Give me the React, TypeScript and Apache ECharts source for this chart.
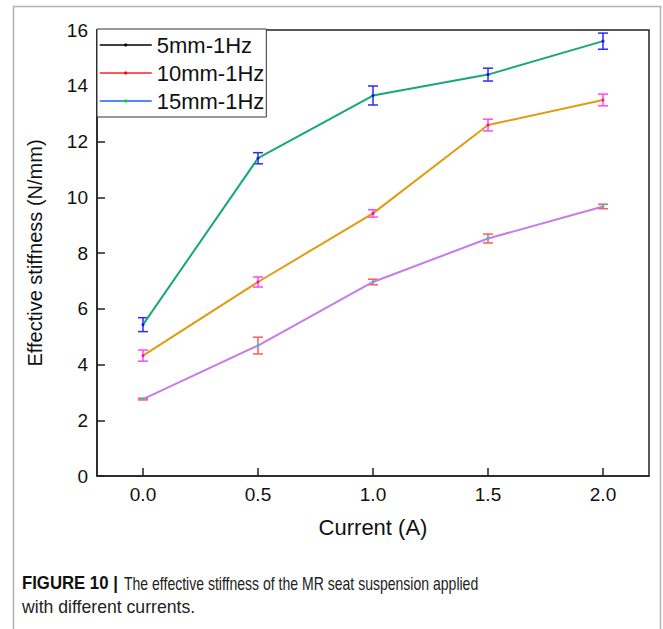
import React, { useEffect, useRef } from "react";
import * as echarts from "echarts";

const currents = [0, 0.5, 1.0, 1.5, 2.0];
const xTicks = [0, 0.5, 1.0, 1.5, 2.0];
const seriesNames = ["5mm-1Hz", "10mm-1Hz", "15mm-1Hz"];
const stiff5 = [2.76, 4.68, 6.96, 8.52, 9.67];
const err5 = [0.03, 0.3, 0.1, 0.16, 0.08];
const stiff10 = [4.32, 6.96, 9.42, 12.59, 13.49];
const err10 = [0.2, 0.18, 0.13, 0.21, 0.21];
const stiff15 = [5.43, 11.4, 13.65, 14.4, 15.6];
const err15 = [0.25, 0.2, 0.34, 0.23, 0.29];

const captionBold = "FIGURE 10 |";
const captionLine1 = "The effective stiffness of the MR seat suspension applied";
const captionLine2 = "with different currents.";

const FONT = "'Liberation Sans', Arial, sans-serif";

function errorSeries(vals: number[], errs: number[], color: string) {
  return {
    type: "custom",
    silent: true,
    z: 3,
    data: currents.map((x, i) => [x, vals[i] - errs[i], vals[i] + errs[i]]),
    renderItem: (_p: any, api: any) => {
      const x = api.value(0);
      const lo = api.coord([x, api.value(1)]);
      const hi = api.coord([x, api.value(2)]);
      const hw = 5;
      const st = { stroke: color, lineWidth: 1.5 };
      return {
        type: "group",
        children: [
          { type: "line", shape: { x1: lo[0], y1: lo[1], x2: hi[0], y2: hi[1] }, style: st },
          { type: "line", shape: { x1: lo[0] - hw, y1: lo[1], x2: lo[0] + hw, y2: lo[1] }, style: st },
          { type: "line", shape: { x1: hi[0] - hw, y1: hi[1], x2: hi[0] + hw, y2: hi[1] }, style: st },
        ],
      };
    },
  };
}

function lineSeries(name: string, vals: number[], lineColor: string, dotColor: string) {
  return {
    type: "line",
    name,
    z: 4,
    data: currents.map((x, i) => [x, vals[i]]),
    symbol: "circle",
    symbolSize: 3,
    showSymbol: true,
    lineStyle: { color: lineColor, width: 2 },
    itemStyle: { color: dotColor },
  };
}

export default function App() {
  const ref = useRef<HTMLDivElement>(null);
  useEffect(() => {
    if (!ref.current) return;
    const chart = echarts.init(ref.current, null, { renderer: "svg" });
    chart.setOption({
      animation: false,
      textStyle: { fontFamily: FONT },
      grid: {
        left: 97,
        right: 14,
        top: 30,
        bottom: 153,
        show: true,
        borderColor: "#222",
        borderWidth: 1.5,
        backgroundColor: "transparent",
      },
      xAxis: {
        type: "value",
        min: -0.2,
        max: 2.2,
        name: "Current (A)",
        nameLocation: "middle",
        nameGap: 40,
        nameTextStyle: { fontSize: 22, color: "#111", fontFamily: FONT },
        axisLine: { show: true, onZero: false, lineStyle: { color: "#222", width: 1.5 } },
        axisTick: { show: true, inside: true, length: 8, customValues: xTicks, lineStyle: { color: "#222", width: 1.5 } },
        axisLabel: {
          customValues: xTicks,
          formatter: (v: number) => v.toFixed(1),
          fontSize: 19,
          color: "#111",
          margin: 9,
          fontFamily: FONT,
        },
        splitLine: { show: false },
      },
      yAxis: {
        type: "value",
        min: 0,
        max: 16,
        interval: 2,
        name: "Effective stiffness (N/mm)",
        nameLocation: "middle",
        nameGap: 52,
        nameTextStyle: { fontSize: 20, color: "#111", fontFamily: FONT },
        axisLine: { show: true, onZero: false, lineStyle: { color: "#222", width: 1.5 } },
        axisTick: { show: true, inside: true, length: 8, lineStyle: { color: "#222", width: 1.5 } },
        axisLabel: { fontSize: 19, color: "#111", margin: 9, fontFamily: FONT },
        splitLine: { show: false },
      },
      legend: {
        orient: "vertical",
        left: 97,
        top: 29,
        padding: [5, 2, 5, 2],
        itemGap: 6,
        itemWidth: 52,
        itemHeight: 4,
        borderColor: "#333",
        borderWidth: 1,
        borderRadius: 0,
        backgroundColor: "#fff",
        textStyle: { fontSize: 22, color: "#111", fontFamily: FONT },
        data: [
          { name: seriesNames[0], itemStyle: { color: "#000" }, lineStyle: { color: "#000", width: 1.5 } },
          { name: seriesNames[1], itemStyle: { color: "#ff0000" }, lineStyle: { color: "#ff2020", width: 1.5 } },
          { name: seriesNames[2], itemStyle: { color: "#00dd00" }, lineStyle: { color: "#1f5fff", width: 1.5 } },
        ],
      },
      graphic: [
        {
          type: "rect",
          silent: true,
          z: -1,
          shape: { x: 13.5, y: 6.5, width: 647, height: 640 },
          style: { fill: "none", stroke: "#b0b0b0", lineWidth: 1.5 },
        },
        {
          type: "text",
          x: 22,
          y: 583,
          scaleX: 0.93,
          style: {
            text: captionBold,
            fontSize: 18,
            fontWeight: "bold",
            fill: "#111",
            fontFamily: FONT,
            verticalAlign: "middle",
          },
        },
        {
          type: "text",
          x: 124,
          y: 583,
          scaleX: 0.78,
          style: {
            text: captionLine1,
            fontSize: 18,
            fill: "#222",
            fontFamily: FONT,
            verticalAlign: "middle",
          },
        },
        {
          type: "text",
          x: 22,
          y: 607,
          scaleX: 0.98,
          style: {
            text: captionLine2,
            fontSize: 18,
            fill: "#222",
            fontFamily: FONT,
            verticalAlign: "middle",
          },
        },
      ],
      series: [
        errorSeries(stiff5, err5, "#ff5a5a"),
        errorSeries(stiff10, err10, "#ff44ff"),
        errorSeries(stiff15, err15, "#2a2aff"),
        lineSeries(seriesNames[0], stiff5, "#c77ce8", "#00d8e0"),
        lineSeries(seriesNames[1], stiff10, "#e09c10", "#ff1090"),
        lineSeries(seriesNames[2], stiff15, "#16a878", "#1010ff"),
      ],
    });
    return () => chart.dispose();
  }, []);
  return (
    <div
      ref={ref}
      style={{ position: "fixed", left: 0, top: 0, width: 663, height: 629, background: "#fff" }}
    />
  );
}
